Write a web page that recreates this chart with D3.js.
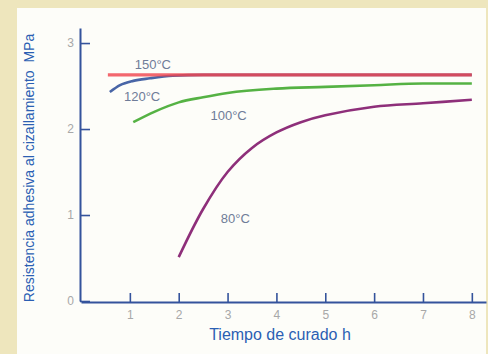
<!DOCTYPE html>
<html>
<head>
<meta charset="utf-8">
<script src="https://cdn.jsdelivr.net/npm/d3@7"></script>
<style>
  html, body { margin: 0; padding: 0; background: #eee6bd; }
  svg { display: block; }
</style>
</head>
<body>
<script>
// Shear strength of the adhesive vs. cure time at four cure temperatures
const xTicks = [1, 2, 3, 4, 5, 6, 7, 8];
const yTicks = [0, 1, 2, 3];

const t150 = [0.55, 8];
const v150 = [2.63, 2.63];

const t120 = [0.59, 0.8, 1.07, 1.41, 1.88, 2.5, 8];
const v120 = [2.43, 2.51, 2.56, 2.59, 2.62, 2.63, 2.63];

const t100 = [1.07, 1.5, 2, 2.5, 3, 4, 5, 6, 7, 8];
const v100 = [2.08, 2.20, 2.31, 2.37, 2.42, 2.47, 2.49, 2.51, 2.53, 2.53];

const t80 = [2, 2.5, 3, 3.5, 4, 4.5, 5, 6, 7, 8];
const v80 = [0.51, 1.07, 1.50, 1.78, 1.96, 2.08, 2.16, 2.26, 2.30, 2.34];

const seriesNames = ["120°C", "150°C", "100°C", "80°C"];

const W = 488, H = 354;
const svg = d3.select("body").append("svg").attr("width", W).attr("height", H);

// white plotting panel on the beige frame
svg.append("rect").attr("x", 17).attr("y", 8).attr("width", 469).attr("height", H - 8)
  .attr("fill", "#fdfdf9");

const x = d3.scaleLinear().domain([0, 8.29]).range([81, 486]);
const y = d3.scaleLinear().domain([0, 3.175]).range([301, 28]);

const axisColor = "#34539c";
const tickText = "#a8a8a8";

// y axis: ticks point inward
const gy = svg.append("g").attr("transform", "translate(80,0)")
  .call(d3.axisLeft(y).tickValues(yTicks).tickFormat(d3.format("d"))
    .tickSizeInner(-10).tickSizeOuter(0).tickPadding(6));
gy.select(".domain").attr("stroke", axisColor).attr("stroke-width", 2);
gy.selectAll(".tick line").attr("stroke", axisColor).attr("stroke-width", 1.6);
gy.selectAll(".tick text").attr("fill", tickText)
  .style("font", "12px 'Liberation Sans', Arial, sans-serif");

// x axis: ticks point upward
const gx = svg.append("g").attr("transform", "translate(0,302)")
  .call(d3.axisBottom(x).tickValues(xTicks).tickFormat(d3.format("d"))
    .tickSizeInner(-9).tickSizeOuter(0).tickPadding(8));
gx.select(".domain").attr("stroke", axisColor).attr("stroke-width", 2);
gx.selectAll(".tick line").attr("stroke", axisColor).attr("stroke-width", 1.6)
  .attr("y1", 1);
gx.selectAll(".tick text").attr("fill", tickText)
  .style("font", "12px 'Liberation Sans', Arial, sans-serif");

const pts = (ts, vs) => ts.map((t, i) => [t, vs[i]]);
const lineMono = d3.line().x(d => x(d[0])).y(d => y(d[1])).curve(d3.curveMonotoneX);
const lineSmooth = d3.line().x(d => x(d[0])).y(d => y(d[1])).curve(d3.curveCatmullRom.alpha(0.5));

const curves = [
  { data: pts(t120, v120), color: "#4865a6", width: 2.6, opacity: 1, gen: lineMono },
  { data: pts(t150, v150), color: "#f0464f", width: 3.2, opacity: 0.82, gen: lineMono },
  { data: pts(t100, v100), color: "#55b244", width: 2.6, opacity: 1, gen: lineMono },
  { data: pts(t80, v80),   color: "#8e2f7a", width: 2.6, opacity: 1, gen: lineSmooth }
];

svg.append("g").selectAll("path").data(curves).join("path")
  .attr("d", d => d.gen(d.data))
  .attr("fill", "none")
  .attr("stroke", d => d.color)
  .attr("stroke-width", d => d.width)
  .attr("stroke-opacity", d => d.opacity)
  .attr("stroke-linecap", "butt");

// curve labels
const labelPos = [
  { name: seriesNames[0], t: 0.88, v: 2.33 },
  { name: seriesNames[1], t: 1.1,  v: 2.7 },
  { name: seriesNames[2], t: 2.65, v: 2.1 },
  { name: seriesNames[3], t: 2.86, v: 0.91 }
];
svg.append("g").selectAll("text").data(labelPos).join("text")
  .attr("x", d => x(d.t)).attr("y", d => y(d.v))
  .attr("fill", "#6f7c98")
  .style("font", "13px 'Liberation Sans', Arial, sans-serif")
  .text(d => d.name);

// axis titles
svg.append("text")
  .attr("x", 280).attr("y", 340).attr("text-anchor", "middle")
  .attr("fill", "#2b5fb3")
  .style("font", "16px 'Liberation Sans', Arial, sans-serif")
  .text("Tiempo de curado h");

svg.append("text")
  .attr("transform", "translate(34,168) rotate(-90)")
  .attr("text-anchor", "middle")
  .attr("fill", "#2b5fb3")
  .attr("xml:space", "preserve")
  .style("font", "14px 'Liberation Sans', Arial, sans-serif")
  .style("white-space", "pre")
  .text("Resistencia adhesiva al cizallamiento  MPa");
</script>
</body>
</html>
